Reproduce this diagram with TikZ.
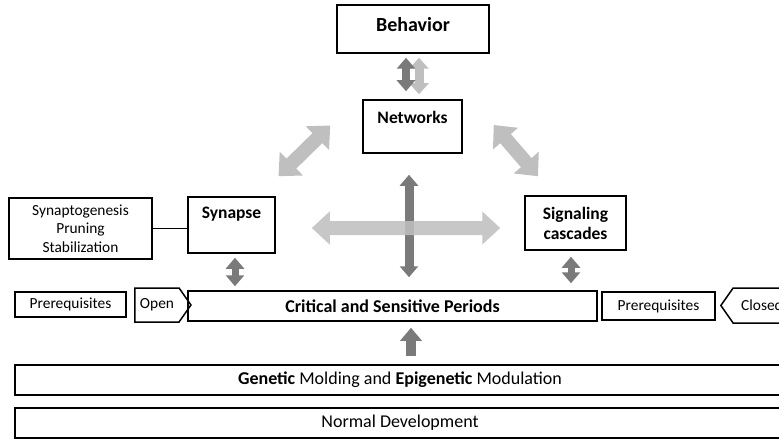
\documentclass[tikz,border=0pt]{standalone}
\usepackage{fontspec}
\setmainfont{Carlito}
\usetikzlibrary{positioning,arrows.meta,shapes.symbols,calc}

\begin{document}
\begin{tikzpicture}
  [x=1pt,y=-1pt,
   box/.style={draw,line width=1.5pt,inner sep=0pt,align=center,font=\fontsize{15.4}{18.5}\selectfont},
   bbox/.style={box,font=\fontsize{17.5}{20}\selectfont\bfseries},
   wide/.style={box,minimum width=770,minimum height=30,font=\fontsize{18}{20}\selectfont},
   flag/.style={box,signal,signal from=nowhere,signal pointer angle=110},
   dark/.style={draw=black!52,line width=8pt,{Triangle[width=18pt,length=11pt]}-{Triangle[width=18pt,length=11pt]}},
   light/.style={draw=black!25,line width=14pt,{Triangle[width=32pt,length=18pt]}-{Triangle[width=32pt,length=18pt]}},
   up/.style={draw=black!52,line width=10pt,-{Triangle[width=21pt,length=13pt]}}]

  \useasboundingbox (0,0) rectangle (779,441);
  \clip (0,0) rectangle (779,441);

  \node[bbox,minimum width=152,minimum height=48,text depth=10pt,font=\fontsize{20}{22}\selectfont\bfseries] (beh) at (413,29) {Behavior};
  \node[bbox,minimum width=99,minimum height=53,text depth=19pt] (net) at (412.5,126.5) {Networks};
  \node[bbox,minimum width=87,minimum height=56,text depth=24pt] (syn) at (231.5,225) {Synapse};
  \node[bbox,minimum width=101,minimum height=54] (sig) at (575.5,223) {Signaling\\cascades};
  \node[box,minimum width=143,minimum height=61] (stages) at (80.5,228.5) {Synaptogenesis\\Pruning\\Stabilization};
  \node[box,minimum width=111,minimum height=25] (preL) at (70.5,304.5) {Prerequisites};
  \node[flag,signal to=east,minimum width=56,minimum height=34] (open) at (157,305) {Open};
  \node[bbox,minimum width=409,minimum height=30,font=\fontsize{18}{20}\selectfont\bfseries] (crit) at (392.5,306) {Critical and Sensitive Periods};
  \node[box,minimum width=113,minimum height=28] (preR) at (658.5,306) {Prerequisites};
  \node[flag,signal to=west,minimum width=70,minimum height=35] (closed) at (762,305.5) {Closed};
  \node[wide] (gen) at (400,380) {\textbf{Genetic} Molding and \textbf{Epigenetic} Modulation};
  \node[wide] (norm) at (400,423) {Normal Development};

  \draw[line width=1.5pt] (stages.east) -- (stages.east -| syn.west);

  \draw[light,line width=9pt,{Triangle[width=19pt,length=11pt]}-{Triangle[width=19pt,length=11pt]}] ($(beh.south)+(6,4)$) -- ($(beh.south |- net.north)+(6,-5)$);
  \draw[dark] ($(beh.south)+(-7,4)$) -- ($(beh.south |- net.north)+(-7,-8)$);
  \draw[light] ($(syn.north)+(47,-20)$) -- ($(net.west)+(-32,-1)$);
  \draw[light] ($(net.east)+(31,-1.5)$) -- ($(sig.north)+(-37.5,-19)$);
  \draw[dark,line width=9pt] ($(net.south)+(-3.5,21)$) -- ($(net.south |- crit.north)+(-3.5,-13)$);
  \begin{scope}[transparency group,opacity=.88]
    \draw[light] ($(syn.east)+(36,3)$) -- ($(syn.east -| sig.west)+(-24,3)$);
  \end{scope}
  \draw[dark,line width=7pt] ($(syn.south)+(3.5,4)$) -- ($(syn.south |- crit.north)+(3.5,-4)$);
  \draw[dark,line width=7pt] ($(sig.south)+(-4.5,6)$) -- ($(sig.south |- crit.north)+(-4.5,-7)$);
  \draw[up] ($(gen.north)+(11,-8)$) -- ($(gen.north |- crit.south)+(11,6)$);
\end{tikzpicture}
\end{document}
